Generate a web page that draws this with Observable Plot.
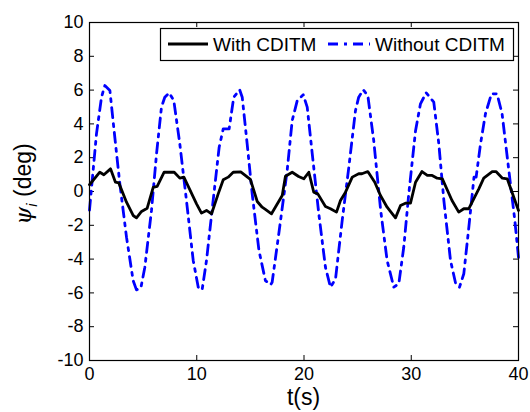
<!DOCTYPE html>
<html>
<head>
<meta charset="utf-8">
<script src="https://cdn.jsdelivr.net/npm/d3@7"></script>
<script src="https://cdn.jsdelivr.net/npm/@observablehq/plot@0.6"></script>
<style>
  html, body { margin: 0; padding: 0; background: #fff; }
  #chart { width: 530px; height: 412px; }
</style>
</head>
<body>
<div id="chart"></div>
<script>
// ---- data ----
const withT = [0,0.96,1.34,1.96,2.42,2.73,3.45,4.07,4.38,4.85,5.38,5.94,6.31,6.96,7.9,8.42,8.8,9.98,10.44,10.91,11.38,12.0,12.47,12.93,13.4,14.1,15.0,15.64,16.1,16.4,16.97,17.97,18.27,18.9,19.5,19.98,20.45,20.91,21.29,22.0,22.47,23.03,23.4,23.87,24.5,25.1,25.4,25.95,26.6,27.13,27.75,28.53,29.0,29.46,29.93,30.4,31.0,31.5,31.95,32.42,32.9,33.8,34.43,34.9,35.37,36.3,36.76,37.55,37.9,38.5,38.95,40];
const withV = [0.4,1.14,0.99,1.34,0.55,0.51,-0.63,-1.42,-1.56,-1.18,-0.99,0.25,0.3,1.14,1.14,0.79,0.85,-0.73,-1.28,-1.12,-1.32,-0.14,0.69,0.85,1.14,1.16,0.72,-0.59,-0.93,-1.06,-1.32,-0.24,0.9,1.14,0.89,0.75,1.14,-0.04,-0.14,-0.89,-1.02,-1.22,-0.53,-0.04,0.85,1.05,1.05,1.18,0.55,-0.24,-0.93,-1.56,-0.83,-0.69,-0.69,0.55,1.18,0.95,0.95,0.79,0.75,-0.53,-1.22,-1.02,-1.02,0.16,0.79,1.18,1.18,0.79,0.75,-1.12];
const withoutT = [0,0.65,1.12,1.43,1.9,2.36,2.83,3.45,4.07,4.38,4.79,5.16,5.78,6.25,6.71,7.02,7.43,7.86,8.42,9.04,9.67,10.14,10.5,10.91,11.53,12.09,12.47,13.02,13.45,14.0,14.24,14.7,15.17,15.8,16.4,16.88,17.03,17.65,18.43,18.9,19.37,19.93,20.3,20.77,21.38,22.0,22.47,22.94,23.56,24.18,24.8,25.1,25.52,25.95,26.5,27.15,27.75,28.37,28.84,29.3,29.77,30.4,30.86,31.39,32.1,32.57,33.04,33.66,34.13,34.5,34.9,35.37,35.85,36.05,36.46,36.92,37.48,38.0,38.47,39.1,39.66,40];
const withoutV = [-1.1,3.41,5.58,6.27,5.98,3.21,0.45,-2.7,-5.27,-5.82,-5.7,-4.48,-1.12,2.23,4.99,5.58,5.84,5.38,2.82,-0.53,-4.08,-5.66,-5.82,-4.08,-0.53,2.62,3.71,3.71,5.58,6.02,5.58,2.82,-0.14,-3.49,-5.27,-5.52,-5.37,-2.5,1.24,4.2,5.38,5.72,4.99,2.23,-1.32,-4.48,-5.66,-5.17,-1.72,1.44,4.79,5.58,6.02,5.68,3.02,-1.12,-4.08,-5.66,-5.46,-3.3,-0.14,3.6,5.19,5.84,5.29,2.82,-0.53,-4.08,-5.42,-5.66,-4.87,-2.11,0.85,0.85,2.82,4.6,5.78,5.78,4.6,1.24,-1.72,-3.9];
const xTicks = [0,10,20,30,40];
const yTicks = [-10,-8,-6,-4,-2,0,2,4,6,8,10];
const seriesNames = ["With CDITM", "Without CDITM"];
const xLabel = "t(s)";

// ---- layout ----
const W = 530, H = 412, ML = 89, MR = 12, MT = 22, MB = 52;
const PW = W - ML - MR, PH = H - MT - MB;
const tick = 5;
const blueDash = "10,6,3,6";

const withData = withT.map((t, i) => ({t, v: withV[i]}));
const withoutData = withoutT.map((t, i) => ({t, v: withoutV[i]}));

const svg = Plot.plot({
  width: W, height: H,
  marginLeft: ML, marginRight: MR, marginTop: MT, marginBottom: MB,
  style: {fontFamily: "'Liberation Sans', Arial, sans-serif", fontSize: "18px", color: "#000", background: "#fff"},
  x: {domain: [0, 40]},
  y: {domain: [-10, 10]},
  marks: [
    Plot.axisX(xTicks, {tickSize: 0, tickPadding: 7, label: null, fontSize: 18, tickFormat: d => String(d)}),
    Plot.axisY(yTicks, {tickSize: 0, tickPadding: 6, label: null, fontSize: 18, tickFormat: d => String(d)}),
    Plot.tickX(xTicks, {x: d => d, stroke: "#000", insetTop: PH - tick}),
    Plot.tickX(xTicks, {x: d => d, stroke: "#000", insetBottom: PH - tick}),
    Plot.tickY(yTicks, {y: d => d, stroke: "#000", insetRight: PW - tick}),
    Plot.tickY(yTicks, {y: d => d, stroke: "#000", insetLeft: PW - tick}),
    Plot.line(withoutData, {x: "t", y: "v", stroke: "#0000ff", strokeWidth: 2.8, strokeDasharray: blueDash, strokeLinejoin: "round"}),
    Plot.line(withData, {x: "t", y: "v", stroke: "#000", strokeWidth: 2.8, strokeLinejoin: "round"}),
    Plot.frame({stroke: "#000", strokeWidth: 1.2})
  ]
});

const s = d3.select(svg);
const ns = "'Liberation Sans', Arial, sans-serif";

// x axis label
s.append("text").attr("x", ML + PW / 2).attr("y", 405)
  .attr("text-anchor", "middle").attr("font-size", 23).attr("font-family", ns)
  .attr("fill", "#000").text(xLabel);

// y axis label: ψ_i (deg)
const yl = s.append("text").attr("transform", "translate(31,184) rotate(-90)")
  .attr("text-anchor", "middle").attr("font-size", 23).attr("font-family", ns).attr("fill", "#000");
yl.append("tspan").attr("font-style", "italic").attr("font-family", "'DejaVu Serif', serif").text("ψ");
yl.append("tspan").attr("font-style", "italic").attr("font-size", 15).attr("dy", 6).text("i");
yl.append("tspan").attr("dy", -6).text(" (deg)");

// legend
const lg = s.append("g").attr("text-anchor", "start");
lg.append("rect").attr("x", 160.5).attr("y", 28.5).attr("width", 353).attr("height", 32)
  .attr("fill", "#fff").attr("stroke", "#000").attr("stroke-width", 1.2);
lg.append("line").attr("x1", 168).attr("x2", 208).attr("y1", 44).attr("y2", 44)
  .attr("stroke", "#000").attr("stroke-width", 2.8);
lg.append("text").attr("x", 213).attr("y", 51).attr("font-size", 19).attr("font-family", ns)
  .attr("text-anchor", "start").attr("fill", "#000").text(seriesNames[0]);
lg.append("line").attr("x1", 328).attr("x2", 370).attr("y1", 44).attr("y2", 44)
  .attr("stroke", "#0000ff").attr("stroke-width", 2.8).attr("stroke-dasharray", blueDash);
lg.append("text").attr("x", 375).attr("y", 51).attr("font-size", 19).attr("font-family", ns)
  .attr("text-anchor", "start").attr("fill", "#000").text(seriesNames[1]);

document.getElementById("chart").appendChild(svg);
</script>
</body>
</html>
